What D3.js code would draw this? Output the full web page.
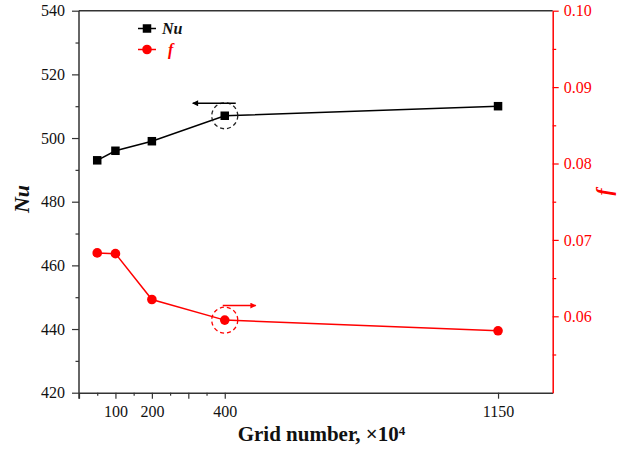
<!DOCTYPE html>
<html>
<head>
<meta charset="utf-8">
<script src="https://cdn.jsdelivr.net/npm/d3@7"></script>
<style>
  html, body { margin: 0; padding: 0; background: #fff; }
  svg { display: block; }
  svg text { font-family: "Liberation Serif", "Times New Roman", serif; }
</style>
</head>
<body>
<div id="chart"></div>
<script>
// ---- data ----
const gridNumbers = [50, 100, 200, 400, 1150];
const nuValues = [493, 496, 499, 507, 510];
const fValues = [0.0683, 0.0682, 0.0622, 0.0595, 0.0581];

const xMajorTicks = [0, 100, 200, 300, 400, 1150];
const xMinorTicks = [50, 150, 250, 350];
const xTickLabels = [100, 200, 400, 1150];
const nuTicks = [420, 440, 460, 480, 500, 520, 540];
const nuMinorTicks = [430, 450, 470, 490, 510, 530];
const fTicks = [0.06, 0.07, 0.08, 0.09, 0.10];
const fMinorTicks = [0.055, 0.065, 0.075, 0.085, 0.095];

const W = 638, H = 454;
const m = { left: 79, right: 85.3, top: 10.7, bottom: 61.3 };
const red = "#ff0000";
const axisGrey = "#333";
const serif = '"Liberation Serif", "Times New Roman", serif';

const svg = d3.select("#chart").append("svg").attr("width", W).attr("height", H)
  .attr("font-family", serif);

const x = d3.scaleLinear().domain([0, 1300]).range([m.left, W - m.right]);
const yL = d3.scaleLinear().domain([420, 540]).range([H - m.bottom, m.top]);
const yR = d3.scaleLinear().domain([0.05, 0.10]).range([H - m.bottom, m.top]);

// top frame
svg.append("line")
  .attr("x1", x(0)).attr("x2", x(1300))
  .attr("y1", yL(540)).attr("y2", yL(540))
  .attr("stroke", axisGrey).attr("stroke-width", 1.5);

function styleAxis(g, color) {
  g.attr("font-family", serif).attr("font-size", 16);
  g.selectAll("path").attr("stroke", color).attr("stroke-width", 1.5);
  g.selectAll("line").attr("stroke", color).attr("stroke-width", 1.2);
  g.selectAll("text").attr("fill", color)
    .style("font-family", serif)
    .style("font-size", "16px");
}

// bottom axis
const gx = svg.append("g").attr("transform", `translate(0,${H - m.bottom})`);
gx.call(d3.axisBottom(x).tickValues(xMajorTicks).tickSize(6).tickSizeOuter(0)
  .tickFormat(d => xTickLabels.includes(d) ? d : ""));
styleAxis(gx, axisGrey);
gx.selectAll("text").attr("dy", "0.95em").attr("fill", "#111");
const gxm = svg.append("g").attr("transform", `translate(0,${H - m.bottom})`);
gxm.call(d3.axisBottom(x).tickValues(xMinorTicks).tickSize(3).tickFormat(""));
gxm.select("path").remove();
styleAxis(gxm, axisGrey);

// left axis
const gl = svg.append("g").attr("transform", `translate(${m.left},0)`);
gl.call(d3.axisLeft(yL).tickValues(nuTicks).tickSize(7).tickSizeOuter(0).tickFormat(d3.format("d")).tickPadding(7));
styleAxis(gl, axisGrey);
gl.selectAll("text").attr("fill", "#111");
gl.select("path").attr("d", `M0,${yL(540)}V${yL(420) + 6}`);
const glm = svg.append("g").attr("transform", `translate(${m.left},0)`);
glm.call(d3.axisLeft(yL).tickValues(nuMinorTicks).tickSize(3.5).tickFormat(""));
glm.select("path").remove();
styleAxis(glm, axisGrey);

// right axis
const gr = svg.append("g").attr("transform", `translate(${W - m.right},0)`);
gr.call(d3.axisRight(yR).tickValues(fTicks).tickSize(6).tickSizeOuter(0).tickFormat(d3.format(".2f")).tickPadding(5));
styleAxis(gr, red);
const grm = svg.append("g").attr("transform", `translate(${W - m.right},0)`);
grm.call(d3.axisRight(yR).tickValues(fMinorTicks).tickSize(3.5).tickFormat(""));
grm.select("path").remove();
styleAxis(grm, red);

// axis titles
const xt = svg.append("text")
  .attr("x", 321.5).attr("y", 441)
  .attr("text-anchor", "middle")
  .style("font-size", "21px").style("font-weight", "bold").attr("fill", "#111");
xt.append("tspan").text("Grid number, \u00d710");
xt.append("tspan").text("4").attr("dy", "-0.45em").style("font-size", "13px");

svg.append("text")
  .attr("transform", `translate(29,199) rotate(-90)`)
  .attr("text-anchor", "middle")
  .style("font-size", "22px").style("font-weight", "bold").style("font-style", "italic")
  .attr("fill", "#111").text("Nu");

svg.append("text")
  .attr("transform", `translate(611,192) rotate(-90)`)
  .attr("text-anchor", "middle")
  .style("font-size", "21px").style("font-weight", "bold").style("font-style", "italic")
  .attr("fill", red).text("f");

// series
const nuData = gridNumbers.map((g, i) => ({ g, v: nuValues[i] }));
const fData = gridNumbers.map((g, i) => ({ g, v: fValues[i] }));

svg.append("path").datum(nuData)
  .attr("fill", "none").attr("stroke", "#000").attr("stroke-width", 1.5)
  .attr("d", d3.line().x(d => x(d.g)).y(d => yL(d.v)));
svg.append("path").datum(fData)
  .attr("fill", "none").attr("stroke", red).attr("stroke-width", 1.5)
  .attr("d", d3.line().x(d => x(d.g)).y(d => yR(d.v)));

const sq = 8.5;
svg.selectAll(".nu").data(nuData).join("rect")
  .attr("x", d => x(d.g) - sq / 2).attr("y", d => yL(d.v) - sq / 2)
  .attr("width", sq).attr("height", sq).attr("fill", "#000");
svg.selectAll(".f").data(fData).join("circle")
  .attr("cx", d => x(d.g)).attr("cy", d => yR(d.v)).attr("r", 4.8).attr("fill", red);

// annotations: dashed circles and arrows at grid 400
const defs = svg.append("defs");
function marker(id, color) {
  defs.append("marker").attr("id", id).attr("viewBox", "0 0 10 10")
    .attr("refX", 9).attr("refY", 5).attr("markerWidth", 8).attr("markerHeight", 6)
    .attr("markerUnits", "userSpaceOnUse").attr("orient", "auto")
    .append("path").attr("d", "M0,0L10,5L0,10Z").attr("fill", color);
}
marker("ah-black", "#000");
marker("ah-red", red);

const a = 3;
svg.append("circle").attr("cx", x(gridNumbers[a])).attr("cy", yL(nuValues[a]))
  .attr("r", 13).attr("fill", "none").attr("stroke", "#222").attr("stroke-width", 1.3)
  .attr("stroke-dasharray", "4,3");
svg.append("line")
  .attr("x1", x(gridNumbers[a]) + 11).attr("x2", x(gridNumbers[a]) - 32)
  .attr("y1", yL(nuValues[a]) - 12.5).attr("y2", yL(nuValues[a]) - 12.5)
  .attr("stroke", "#000").attr("stroke-width", 1.5).attr("marker-end", "url(#ah-black)");

svg.append("circle").attr("cx", x(gridNumbers[a])).attr("cy", yR(fValues[a]))
  .attr("r", 13).attr("fill", "none").attr("stroke", red).attr("stroke-width", 1.3)
  .attr("stroke-dasharray", "4,3");
svg.append("line")
  .attr("x1", x(gridNumbers[a]) - 2).attr("x2", x(gridNumbers[a]) + 31)
  .attr("y1", yR(fValues[a]) - 14.5).attr("y2", yR(fValues[a]) - 14.5)
  .attr("stroke", red).attr("stroke-width", 1.5).attr("marker-end", "url(#ah-red)");

// legend
const lg = svg.append("g");
lg.append("line").attr("x1", 138).attr("x2", 156).attr("y1", 28.5).attr("y2", 28.5)
  .attr("stroke", "#000").attr("stroke-width", 1.5);
lg.append("rect").attr("x", 147 - sq / 2).attr("y", 28.5 - sq / 2).attr("width", sq).attr("height", sq).attr("fill", "#000");
lg.append("text").attr("x", 162).attr("y", 34).style("font-size", "16px")
  .style("font-weight", "bold").style("font-style", "italic").attr("fill", "#111").text("Nu");
lg.append("line").attr("x1", 138).attr("x2", 156).attr("y1", 49.5).attr("y2", 49.5)
  .attr("stroke", red).attr("stroke-width", 1.5);
lg.append("circle").attr("cx", 147).attr("cy", 49.5).attr("r", 4.8).attr("fill", red);
lg.append("text").attr("x", 168).attr("y", 55).style("font-size", "16px")
  .style("font-weight", "bold").style("font-style", "italic").attr("fill", red).text("f");
</script>
</body>
</html>
